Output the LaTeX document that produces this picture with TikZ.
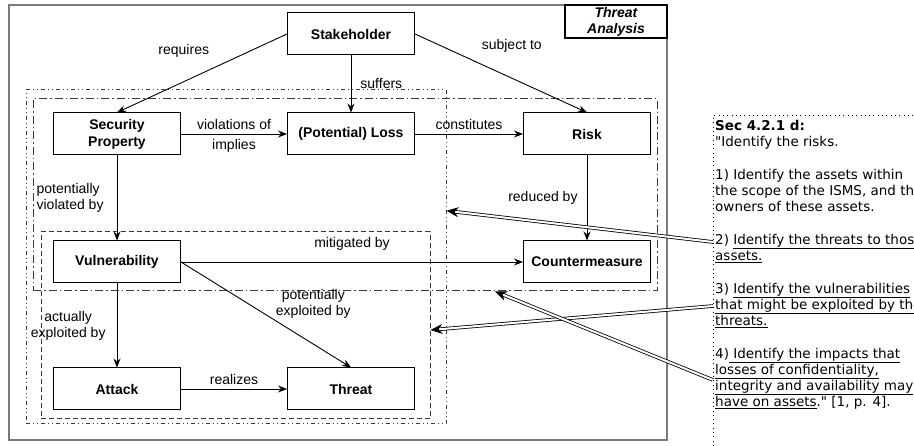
\documentclass[tikz,border=0pt]{standalone}
\usepackage{fontspec}
\setmainfont{Liberation Sans}
\newfontfamily\notefont{DejaVu Sans}
\usetikzlibrary{arrows.meta,positioning,calc}
\definecolor{framegray}{HTML}{7A7A7A}
\definecolor{zoneink}{HTML}{3A3A3A}
\tikzset{
  >={Stealth[length=9pt,width=7pt,inset=3pt]},
  % konzepte
  cls/.style={draw=black,line width=1pt,fill=white,minimum width=127pt,
              minimum height=42pt,align=center,
              font=\fontsize{14}{17}\selectfont\bfseries},
  rel/.style={->,draw=black,line width=0.9pt},
  lbl/.style={font=\fontsize{14}{16}\selectfont,inner sep=1pt,text=black},
  % bereiche
  zone/.style={draw=zoneink,line width=1pt,inner sep=0pt},
  zthr/.style={zone,dash pattern=on 4pt off 3pt on 1pt off 3pt on 1pt off 3pt},
  zimp/.style={zone,dash pattern=on 8pt off 3pt on 1.5pt off 3pt},
  zvul/.style={zone,dash pattern=on 5pt off 3pt},
  frame/.style={draw=framegray,line width=2.5pt,inner sep=0pt},
  tbox/.style={draw=black,line width=2pt,fill=white,inner sep=0pt,align=center,
               font=\fontsize{14}{16}\selectfont\bfseries\itshape},
  % norm
  memo/.style={inner xsep=2pt,inner ysep=4pt,align=left,
               font=\notefont\fontsize{13.5}{16}\selectfont},
  memodot/.style={draw=black,line width=1pt,dash pattern=on 0.8pt off 3.5pt},
  trace/.style={-{Stealth[length=12pt,width=10pt]},draw=black,double,
                double distance=2pt,line width=0.8pt},
}

\begin{document}
\begin{tikzpicture}[x=1pt,y=-1pt]
\useasboundingbox (0,0) rectangle (914,446);
\clip (0,0) rectangle (914,446);
  \node[frame,minimum width=658pt,minimum height=435pt] (box) at (338,222.5) {};
  \node[zthr,minimum width=420pt,minimum height=334pt] (zthreats) at (236,257) {};
  \node[zimp,minimum width=624pt,minimum height=192pt] (zimpact) at (345,195) {};
  \node[zvul,minimum width=389pt,minimum height=187pt] (zvuln) at (235.5,325.5) {};
  \node[tbox,minimum width=102pt,minimum height=33pt] (title) at (616,21.5) {Threat\\Analysis};

  \node[cls] (stake) at (351,34) {Stakeholder};
  \node[cls] (secprop) at (117,134) {Security\\Property};
  \node[cls] (loss) at (351,134) {(Potential) Loss};
  \node[cls] (risk) at (587,134) {Risk};
  \node[cls] (vuln) at (117,262) {Vulnerability};
  \node[cls] (cm) at (587,262) {Countermeasure};
  \node[cls] (attack) at (117,389) {Attack};
  \node[cls] (threat) at (351,389) {Threat};

  \draw[rel] (stake.west) -- node[lbl,pos=0.45,anchor=south east,yshift=10pt] {requires} (secprop.north);
  \draw[rel] (stake.east) -- node[lbl,pos=0.38,anchor=south west,yshift=10pt] {subject to} (risk.north);
  \draw[rel] (stake) -- node[lbl,right=8pt] {suffers} (loss);
  \draw[rel] (secprop) -- node[lbl,above=3pt] {violations of} node[lbl,below=4pt] {implies} (loss);
  \draw[rel] (loss) -- node[lbl,above=3pt] {constitutes} (risk);
  \draw[rel] (risk) -- node[lbl,left=8pt] {reduced by} (cm);
  \draw[rel] (secprop) -- node[lbl,left=12pt,align=left] {potentially\\violated by} (vuln);
  \draw[rel] (vuln) -- node[lbl,above=10pt] {mitigated by} (cm);
  \draw[rel] (vuln) -- node[lbl,left=10pt,align=center] {actually\\exploited by} (attack);
  \draw[rel] (vuln.east) -- node[lbl,pos=0.55,anchor=south west,align=center] {potentially\\exploited by} (threat.north);
  \draw[rel] (attack) -- node[lbl,above=3pt] {realizes} (threat);

  \node[memo,anchor=north west] (norm) at (713,116) {\textbf{Sec 4.2.1 d:}\\
    "Identify the risks.\\[17pt]
    1) Identify the assets within\\
    the scope of the ISMS, and the\\
    owners of these assets.\\[17pt]
    2) \underline{Identify the threats to those}\\
    \underline{assets.}\\[17pt]
    3) \underline{Identify the vulnerabilities}\\
    \underline{that might be exploited by the}\\
    \underline{threats.}\\[17pt]
    4)\underline{ Identify the impacts that}\\
    \underline{losses of confidentiality,}\\
    \underline{integrity and availability may}\\
    \underline{have on assets}." [1, p. 4].};
  \draw[memodot] ([xshift=230pt]norm.north west) -- (norm.north west) -- ([yshift=-340pt]norm.north west);

  \coordinate (n2) at (713,242);
  \coordinate (n3) at (713,306);
  \coordinate (n4) at (713,380);
  \draw[trace] (n2) -- ($(zthreats.north east)!0.362!(zthreats.south east)$);
  \draw[trace] (n3) -- ($(zvuln.north east)!0.524!(zvuln.south east)$);
  \draw[trace] (n4) -- ($(zimpact.south west)!0.74!(zimpact.south east)$);
\end{tikzpicture}
\end{document}
